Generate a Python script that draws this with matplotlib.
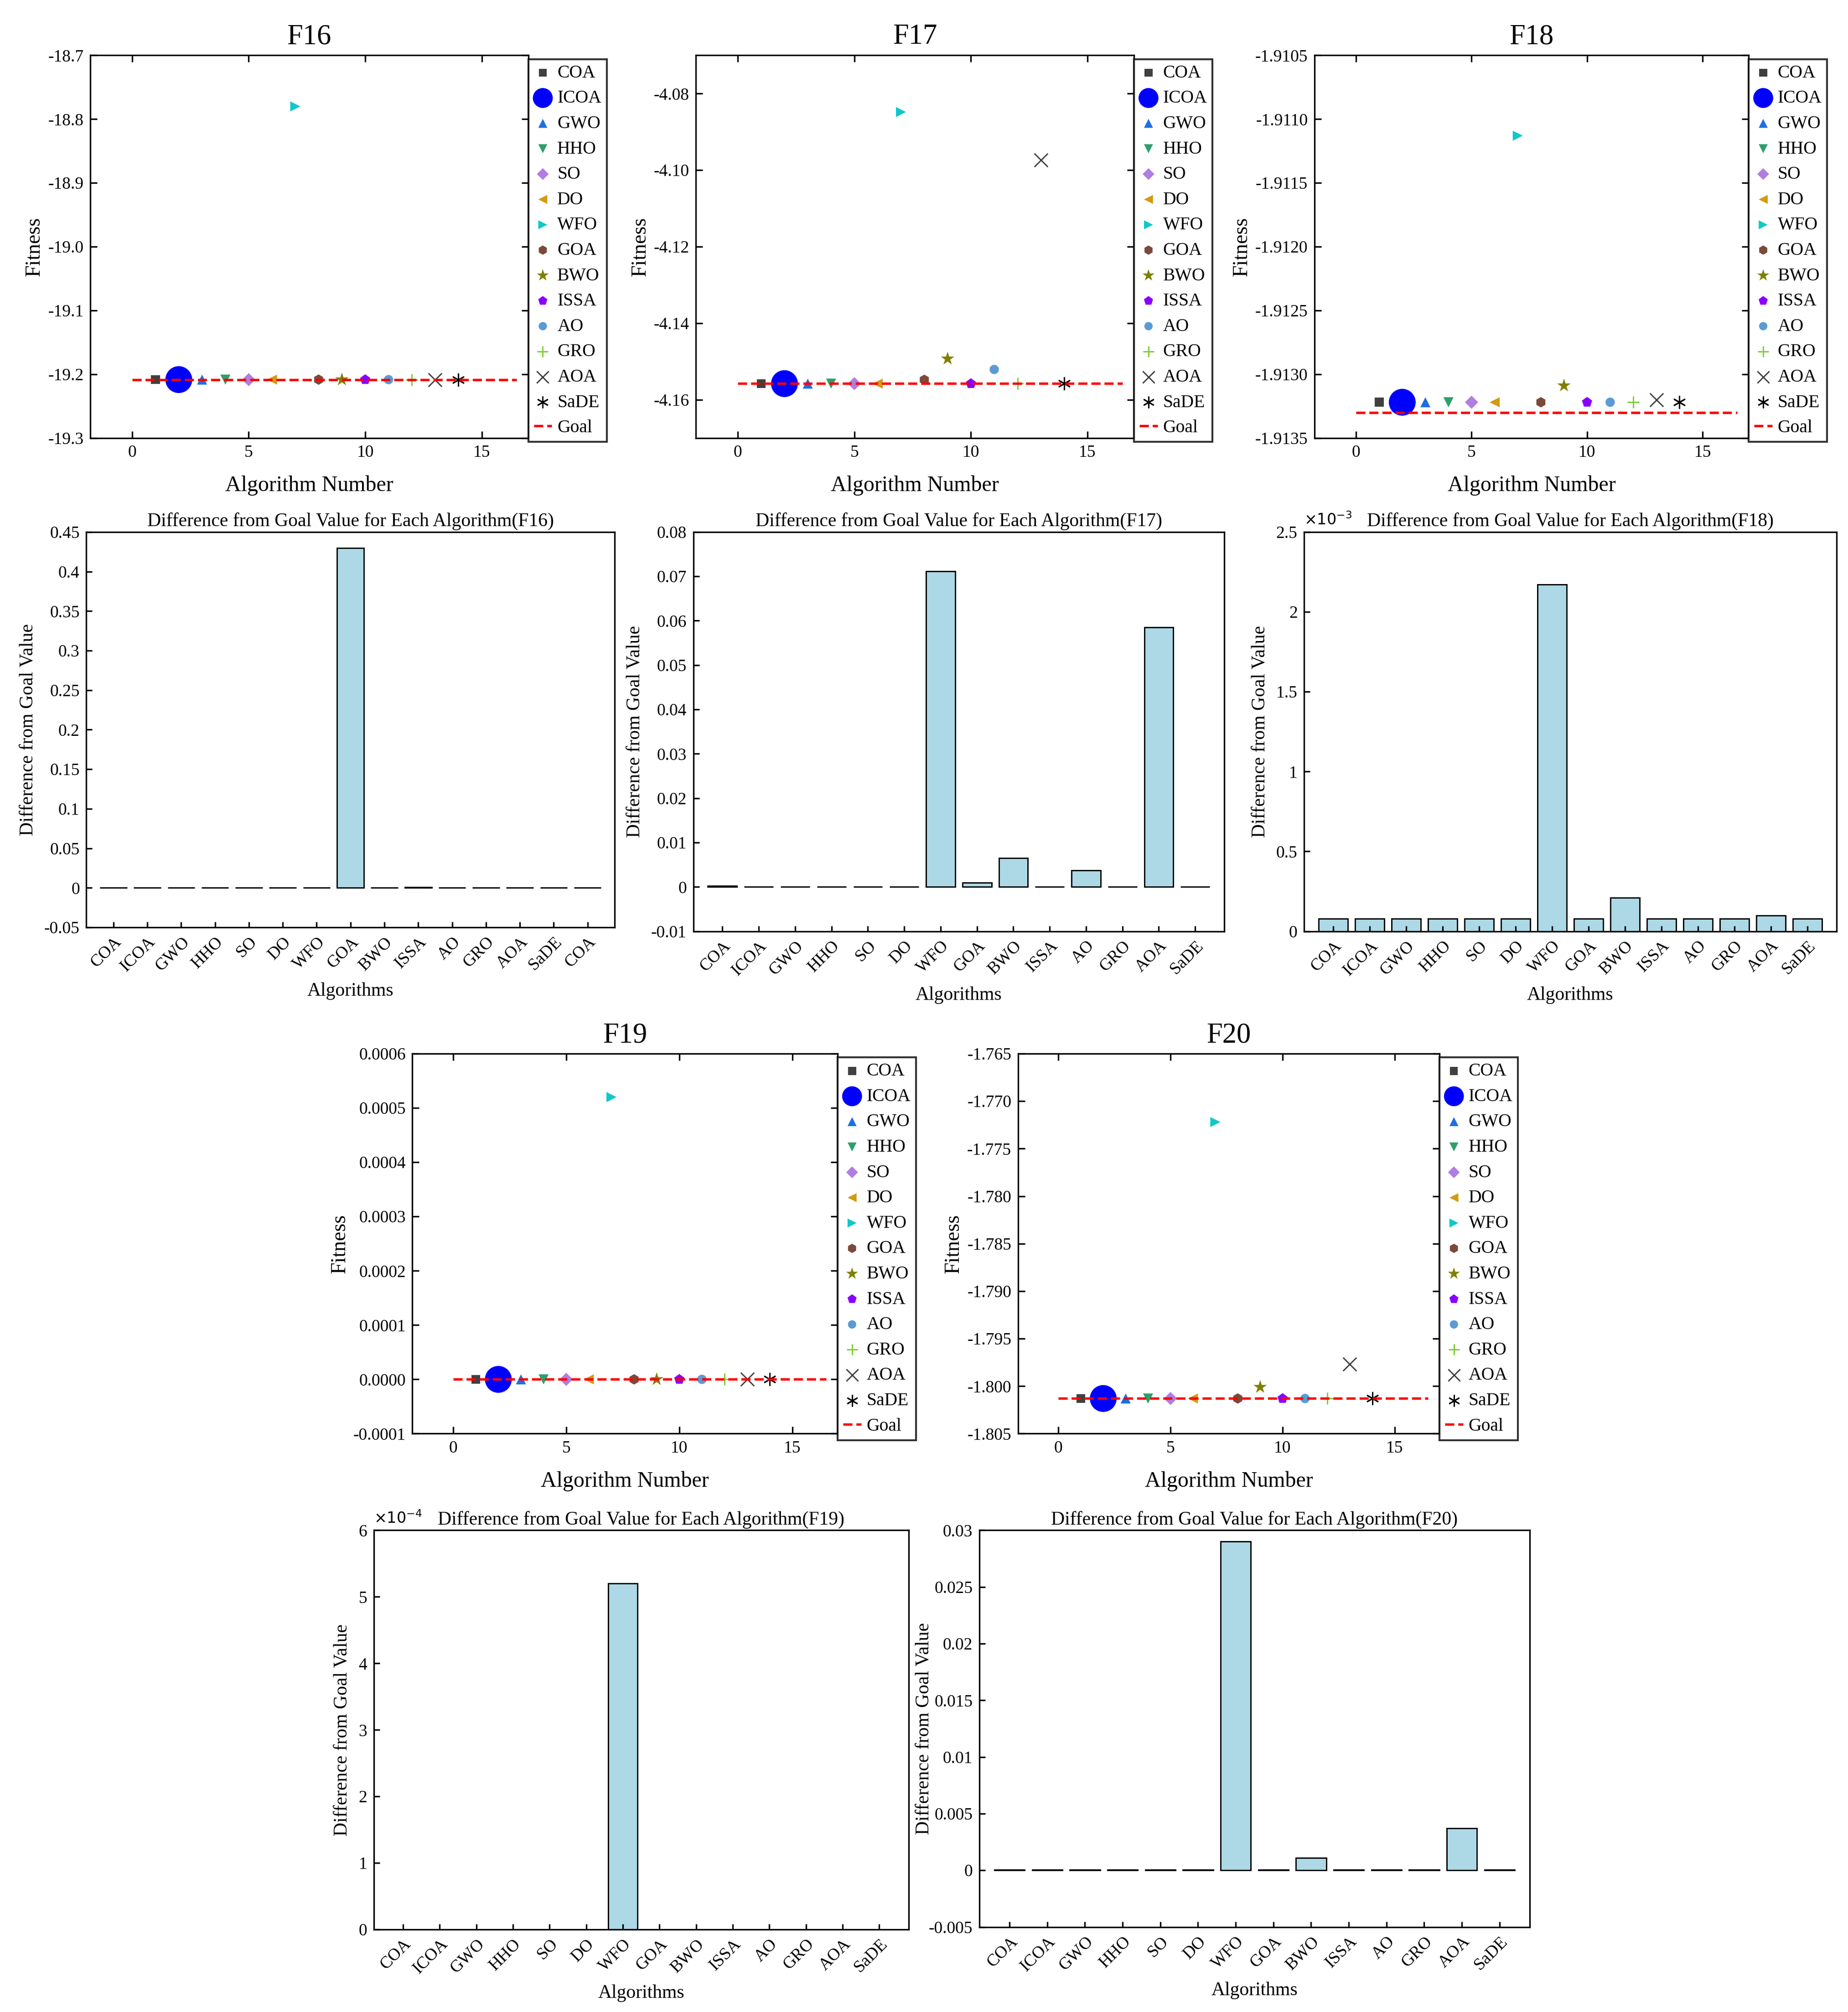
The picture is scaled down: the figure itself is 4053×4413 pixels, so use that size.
import matplotlib
matplotlib.use("Agg")
import matplotlib.pyplot as plt
import numpy as np

plt.rcParams["font.family"] = "Liberation Serif"
plt.rcParams["xtick.direction"] = "in"
plt.rcParams["ytick.direction"] = "in"

algos = ["COA","ICOA","GWO","HHO","SO","DO","WFO","GOA","BWO","ISSA","AO","GRO","AOA","SaDE"]
markers = ["s","o","^","v","D","<",">","h","*","p","o","+","x",(6,2,0)]
colors = ["#404040","#0000ff","#1f6fe0","#2e9e6a","#b07ee0","#d49a10","#10c8c8","#7a4a3a","#808000","#8a00ff","#5b9bd5","#7ccd32","#404040","#000000"]
sizes = [22,200,28,28,24,28,28,30,55,32,24,40,50,40]

funcs = ["F16","F17","F18","F19","F20"]
goals = {"F16":-19.2085,"F17":-4.1558,"F18":-1.91330,"F19":0.0,"F20":-1.80130}
fit = {
 "F16":[-19.2085,-19.2085,-19.2085,-19.2085,-19.2085,-19.2085,-18.7800,-19.2085,-19.2085,-19.2085,-19.2085,-19.2085,-19.2085,-19.2085],
 "F17":[-4.1558,-4.1558,-4.1558,-4.1558,-4.1558,-4.1558,-4.0848,-4.1548,-4.1493,-4.1558,-4.1521,-4.1558,-4.0973,-4.1558],
 "F18":[-1.91322,-1.91322,-1.91322,-1.91322,-1.91322,-1.91322,-1.91113,-1.91322,-1.91309,-1.91322,-1.91322,-1.91322,-1.91320,-1.91322],
 "F19":[0.0,0.0,0.0,0.0,0.0,0.0,0.00052,0.0,0.0,0.0,0.0,0.0,0.0,0.0],
 "F20":[-1.8013,-1.8013,-1.8013,-1.8013,-1.8013,-1.8013,-1.7722,-1.8013,-1.8001,-1.8013,-1.8013,-1.8013,-1.7977,-1.8013],
}
diff = {
 "F16":[0,0,0,0,0,0,0,0.43,0,0.0006,0,0,0,0,0],
 "F17":[0.0002,0,0,0,0,0,0.0711,0.0010,0.0065,0,0.0037,0,0.0585,0],
 "F18":[0.08,0.08,0.08,0.08,0.08,0.08,2.17,0.08,0.21,0.08,0.08,0.08,0.10,0.08],
 "F19":[0,0,0,0,0,0,5.2,0,0,0,0,0,0,0],
 "F20":[0.00005,0.00005,0.00005,0.00005,0.00005,0.00005,0.0290,0.00005,0.0011,0.00005,0.00005,0.00005,0.0037,0.00005],
}
bar_labels = {"F16":algos+["COA"]}
ylims_s = {"F16":(-19.3,-18.7),"F17":(-4.17,-4.07),"F18":(-1.9135,-1.9105),"F19":(-0.0001,0.0006),"F20":(-1.805,-1.765)}
yticks_s = {"F16":np.arange(-19.3,-18.69,0.1),"F17":np.arange(-4.16,-4.07,0.02),"F18":np.arange(-1.9135,-1.91049,0.0005),
            "F19":np.arange(-0.0001,0.00061,0.0001),"F20":np.arange(-1.805,-1.7649,0.005)}
yfmt = {"F16":"%.1f","F17":"%.2f","F18":"%.4f","F19":"%.4f","F20":"%.3f"}
ylims_b = {"F16":(-0.05,0.45),"F17":(-0.01,0.08),"F18":(0,2.5),"F19":(0,6),"F20":(-0.005,0.03)}
yticks_b = {"F16":np.arange(-0.05,0.451,0.05),"F17":np.arange(-0.01,0.081,0.01),"F18":np.arange(0,2.51,0.5),
            "F19":np.arange(0,6.1,1),"F20":np.arange(-0.005,0.0301,0.005)}
exps = {"F18":r"$\times10^{-3}$","F19":r"$\times10^{-4}$"}

W,H = 1434,1562
def rect(x0,y0,x1,y1):
    return [x0/W, 1-y1/H, (x1-x0)/W, (y1-y0)/H]

spos = {"F16":(70,43,410,340),"F17":(540,43,880,340),"F18":(1020,43,1357,340),
        "F19":(320,818,650,1113),"F20":(790,818,1117,1113)}
bpos = {"F16":(67,413,477,720),"F17":(538,413,950,723),"F18":(1012,413,1425,723),
        "F19":(290,1188,705,1498),"F20":(760,1188,1187,1496)}

fig = plt.figure(figsize=(4053/300,4413/300), dpi=300)
from matplotlib.ticker import FormatStrFormatter
for f in funcs:
    ax = fig.add_axes(rect(*spos[f]))
    x = np.arange(1,15)
    for i,a in enumerate(algos):
        kw = dict(marker=markers[i], s=sizes[i], label=a, zorder=3)
        if markers[i] in ["+","x",(6,2,0)]:
            ax.scatter(x[i], fit[f][i], c=colors[i], linewidths=0.7, **kw)
        else:
            ax.scatter(x[i], fit[f][i], c=colors[i], edgecolors="none", **kw)
    ax.plot([0,16.5],[goals[f]]*2, "r--", lw=1.3, label="Goal", zorder=4)
    ax.set_xlim(-1.8,17)
    ax.set_xticks([0,5,10,15])
    ax.set_ylim(*ylims_s[f])
    ax.set_yticks(yticks_s[f])
    ax.yaxis.set_major_formatter(FormatStrFormatter(yfmt[f]))
    ax.tick_params(labelsize=9, top=True, right=True)
    ax.set_xlabel("Algorithm Number", fontsize=11.5, labelpad=8)
    ax.set_ylabel("Fitness", fontsize=11, labelpad=2)
    ax.set_title(f, fontsize=15, pad=6)
    leg = ax.legend(loc="upper left", bbox_to_anchor=(1.0,0.99), fontsize=9.5, frameon=True, fancybox=False,
              edgecolor="black", borderaxespad=0.0, handletextpad=0.3, handlelength=1.0,
              labelspacing=0.47, borderpad=0.3)
    for i,h in enumerate(leg.legend_handles[:14]):
        h.set_sizes([110 if i == 1 else sizes[i]*0.8])

    bx = fig.add_axes(rect(*bpos[f]))
    labs = bar_labels.get(f, algos)
    vals = diff[f]
    bx.bar(np.arange(1,len(vals)+1), vals, width=0.8, color="#add8e6", edgecolor="black", linewidth=0.7)
    bx.set_xlim(0.2,len(labs)+0.8)
    bx.set_xticks(np.arange(1,len(labs)+1))
    bx.set_xticklabels(labs, rotation=45, ha="right", rotation_mode="anchor", fontsize=9)
    bx.set_ylim(*ylims_b[f])
    bx.set_yticks(yticks_b[f])
    bx.set_yticklabels([("%g" % round(v,4)) for v in yticks_b[f]], fontsize=9)
    bx.tick_params(top=False, right=False, length=3)
    bx.set_xlabel("Algorithms", fontsize=10)
    bx.set_ylabel("Difference from Goal Value", fontsize=10)
    bx.set_title("Difference from Goal Value for Each Algorithm(%s)" % f, fontsize=10, pad=3)
    if f == "F20":
        bx.yaxis.set_label_coords(-0.085, 0.5)
    if f in exps:
        bx.text(0.0, 1.01, exps[f], transform=bx.transAxes, fontsize=8, ha="left", va="bottom")

fig.savefig("out.png", dpi=300)
